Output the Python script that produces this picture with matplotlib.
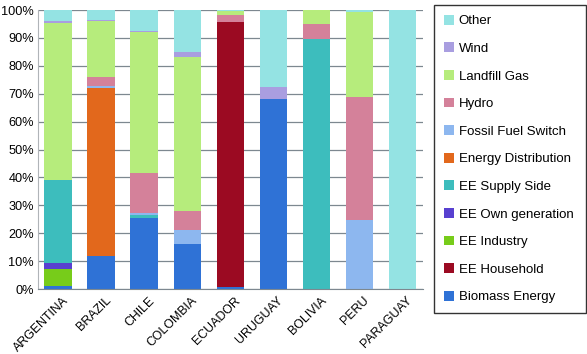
import matplotlib.pyplot as plt
import matplotlib.transforms as mtransforms
import numpy as np

countries = ['ARGENTINA', 'BRAZIL', 'CHILE', 'COLOMBIA', 'ECUADOR',
             'URUGUAY', 'BOLIVIA', 'PERU', 'PARAGUAY']

# shares in % (stack order bottom -> top)
biomass      = [1.0, 11.8, 25.3, 16.1, 0.6, 68.1, 0.0, 0.0, 0.0]
ee_household = [0.0, 0.0, 0.0, 0.0, 95.1, 0.0, 0.0, 0.0, 0.0]
ee_industry  = [6.2, 0.0, 0.0, 0.0, 0.0, 0.0, 0.0, 0.0, 0.0]
ee_own_gen   = [2.0, 0.0, 0.0, 0.0, 0.0, 0.0, 0.0, 0.0, 0.0]
ee_supply    = [29.8, 0.0, 1.2, 0.0, 0.0, 0.0, 89.5, 0.0, 0.0]
energy_dist  = [0.0, 60.4, 0.0, 0.0, 0.0, 0.0, 0.0, 0.0, 0.0]
fossil       = [0.0, 0.6, 0.9, 5.0, 0.0, 0.0, 0.0, 24.7, 0.0]
hydro        = [0.0, 3.1, 14.1, 6.9, 2.4, 0.0, 5.5, 44.2, 0.0]
landfill     = [56.2, 20.1, 50.5, 55.3, 1.5, 0.0, 5.0, 30.4, 0.0]
wind         = [0.8, 0.3, 0.6, 1.7, 0.0, 4.2, 0.0, 0.0, 0.0]
other        = [4.0, 3.7, 7.4, 15.0, 0.4, 27.7, 0.0, 0.7, 100.0]

series = [
    ('Biomass Energy', biomass, '#2f72d6'),
    ('EE Household', ee_household, '#9b0a22'),
    ('EE Industry', ee_industry, '#77cc1a'),
    ('EE Own generation', ee_own_gen, '#5840d0'),
    ('EE Supply Side', ee_supply, '#3dbdbd'),
    ('Energy Distribution', energy_dist, '#e2681c'),
    ('Fossil Fuel Switch', fossil, '#8db7ef'),
    ('Hydro', hydro, '#d4819a'),
    ('Landfill Gas', landfill, '#b6ec7c'),
    ('Wind', wind, '#a99ee0'),
    ('Other', other, '#94e3e3'),
]

plt.rcParams['font.family'] = ['Liberation Sans', 'DejaVu Sans']

fig = plt.figure(figsize=(5.87, 3.54), dpi=100)
ax = fig.add_axes([0.0647, 0.1836, 0.656, 0.788])

x = np.arange(len(countries))
bottom = np.zeros(len(countries))
handles = []
for name, vals, col in series:
    b = ax.bar(x, vals, 0.64, bottom=bottom, color=col, label=name, zorder=2)
    handles.append(b)
    bottom += np.array(vals)

ax.set_ylim(0, 100)
ax.set_xlim(-0.47, 8.48)
ax.set_yticks(np.arange(0, 101, 10))
ax.set_yticklabels([f'{v}%' for v in range(0, 101, 10)], fontsize=9.2)
ax.yaxis.grid(True, color='#7d8890', linewidth=0.9, zorder=0)
ax.set_axisbelow(True)
ax.set_xticks(x)
ax.set_xticklabels(countries, rotation=45, ha='right', rotation_mode='anchor', fontsize=8.9)
ax.tick_params(axis='y', length=0, pad=3)
ax.tick_params(axis='x', length=0, pad=4)
# nudge the rotated labels to the right, as in the original
shift = mtransforms.ScaledTranslation(4 / 100, 0, fig.dpi_scale_trans)
for lbl in ax.get_xticklabels():
    lbl.set_transform(lbl.get_transform() + shift)
for s in ['top', 'right']:
    ax.spines[s].set_visible(False)
ax.spines['left'].set_color('#b0b4b8')
ax.spines['bottom'].set_color('#7d8890')

leg = fig.legend(handles[::-1], [s[0] for s in series][::-1],
                 loc='upper left', bbox_to_anchor=(0.739, 0.116, 0.259, 0.870),
                 mode='expand', fontsize=9.5, labelspacing=1.15,
                 handlelength=0.75, handleheight=0.75, handletextpad=0.4,
                 borderaxespad=0, fancybox=False, edgecolor='black',
                 borderpad=0.75)
leg.get_frame().set_linewidth(1.0)

fig.savefig('out.png', dpi=100)
